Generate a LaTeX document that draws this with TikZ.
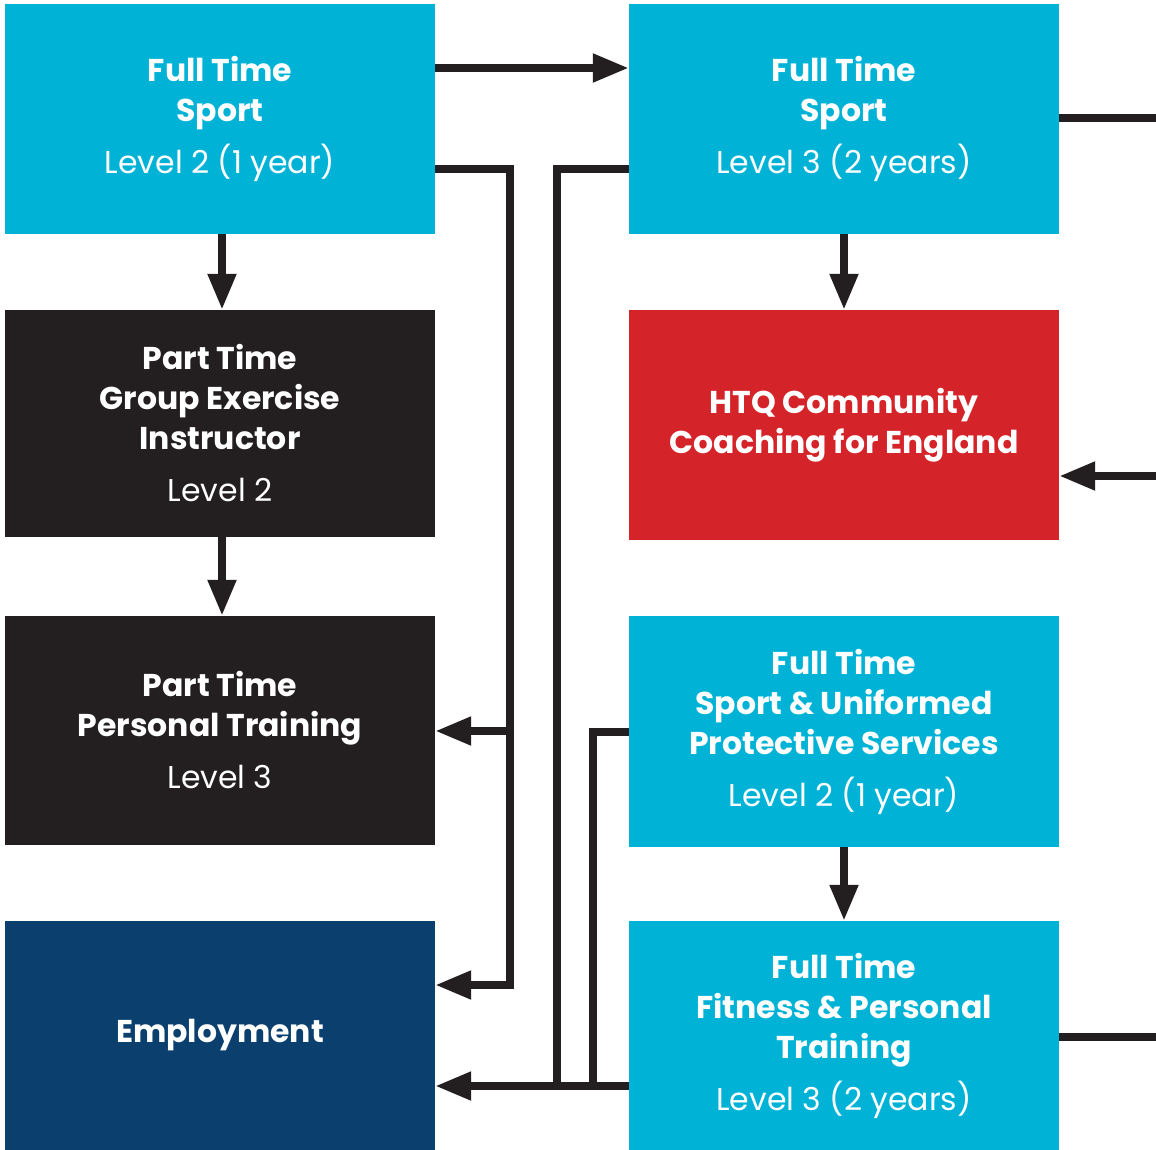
\documentclass[tikz,border=0pt]{standalone}
\usepackage{fontspec}
\setmainfont{Poppins}
\usetikzlibrary{arrows.meta}
\definecolor{cyanbox}{HTML}{00B3D6}
\definecolor{darkbox}{HTML}{231F20}
\definecolor{redbox}{HTML}{D4242A}
\definecolor{navybox}{HTML}{0A3F6E}
\definecolor{linecol}{HTML}{231F20}
\tikzset{
  box/.style={minimum width=430pt, minimum height=230pt, inner sep=0pt, align=center,
    text=white, font=\fontsize{31.5}{40}\selectfont},
  ln/.style={draw=linecol, line width=8pt},
  arr/.style={ln, -{Triangle[length=36pt,width=27pt]}},
}
\newcommand{\ttl}[1]{{\bfseries #1}}
\begin{document}
\begin{tikzpicture}[x=1pt,y=-1pt]
\useasboundingbox (0,0) rectangle (1156,1150);
\fill[white] (0,0) rectangle (1156,1150);
\node[box, fill=cyanbox] (A) at (220,119) {\ttl{Full Time}\\\ttl{Sport}\\[12pt]Level 2 (1 year)};
\node[box, fill=cyanbox] (B) at (844,119) {\ttl{Full Time}\\\ttl{Sport}\\[12pt]Level 3 (2 years)};
\node[box, fill=darkbox, minimum height=227pt] (C) at (220,423.5) {\ttl{Part Time}\\\ttl{Group Exercise}\\\ttl{Instructor}\\[12pt]Level 2};
\node[box, fill=redbox] (D) at (844,425) {\ttl{HTQ Community}\\\ttl{Coaching for England}};
\node[box, fill=darkbox, minimum height=229pt] (E) at (220,730.5) {\ttl{Part Time}\\\ttl{Personal Training}\\[12pt]Level 3};
\node[box, fill=cyanbox, minimum height=231pt] (F) at (844,731.5) {\ttl{Full Time}\\\ttl{Sport \& Uniformed}\\\ttl{Protective Services}\\[12pt]Level 2 (1 year)};
\node[box, fill=navybox, minimum height=229pt] (G) at (220,1035.5) {\ttl{Employment}};
\node[box, fill=cyanbox, minimum height=229pt] (H) at (844,1035.5) {\ttl{Full Time}\\\ttl{Fitness \& Personal}\\\ttl{Training}\\[12pt]Level 3 (2 years)};
\coordinate (outB) at (1160,118);
\coordinate (inD) at (1160,476);
\coordinate (outH) at (1160,1037);
\draw[arr] (A.east |- 0,68) -- (B.west |- 0,68);
\draw[arr] (A.south -| 222,0) -- (C.north -| 222,0);
\draw[arr] (C.south -| 222,0) -- (E.north -| 222,0);
\draw[arr] (B.south) -- (D.north);
\draw[arr] (F.south) -- (H.north);
\draw[arr] (A.east |- 0,169) -- (510,169) -- (510,985) -- (G.east |- 0,985);
\draw[arr] (510,731) -- (E.east |- 0,731);
\draw[ln] (B.west |- 0,169) -- (557,169) -- (557,1086);
\draw[ln] (F.west |- 0,732) -- (593,732) -- (593,1086);
\draw[arr] (H.west |- 0,1086) -- (G.east |- 0,1086);
\draw[ln] (B.east |- 0,118) -- (outB);
\draw[arr] (inD) -- (D.east |- 0,476);
\draw[ln] (H.east |- 0,1037) -- (outH);
\end{tikzpicture}
\end{document}
